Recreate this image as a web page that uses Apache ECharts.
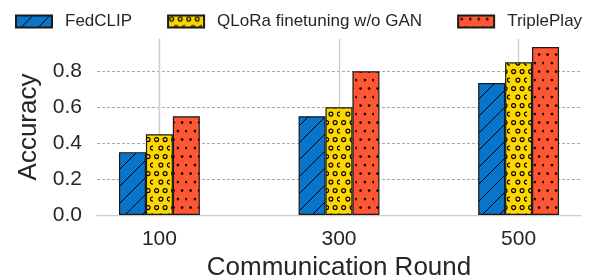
<!DOCTYPE html>
<html>
<head>
<meta charset="utf-8">
<script src="https://cdn.jsdelivr.net/npm/echarts@6/dist/echarts.min.js"></script>
<style>
  html, body { margin: 0; padding: 0; background: #fff; }
  #chart { width: 602px; height: 280px; }
</style>
</head>
<body>
<div id="chart"></div>
<script>
const rounds = ['100', '300', '500']
const seriesNames = ['FedCLIP', 'QLoRa finetuning w/o GAN', 'TriplePlay']
const fedclip = [0.35, 0.55, 0.735]
const qlora = [0.45, 0.60, 0.85]
const tripleplay = [0.55, 0.80, 0.935]
const yTicks = [0, 0.2, 0.4, 0.6, 0.8]

const font = '"Liberation Sans", Arial, sans-serif'
const textColor = '#262626'

// hatch tiles, like matplotlib's '/', 'o' and '.'
const makePattern = (bg, draw) => {
  const c = document.createElement('canvas')
  c.width = 17
  c.height = 17
  const ctx = c.getContext('2d')
  ctx.fillStyle = bg
  ctx.fillRect(0, 0, 17, 17)
  ctx.strokeStyle = '#000'
  ctx.fillStyle = '#000'
  ctx.lineWidth = 1
  draw(ctx)
  return { image: c, repeat: 'repeat' }
}

const hatchSlash = makePattern('#0a74c9', (ctx) => {
  ctx.beginPath()
  ctx.moveTo(-1, 18); ctx.lineTo(18, -1)
  ctx.moveTo(-1, 1); ctx.lineTo(1, -1)
  ctx.moveTo(16, 18); ctx.lineTo(18, 16)
  ctx.stroke()
})

const spots = [[2.1, 2.1], [10.6, 2.1], [6.4, 10.6], [14.9, 10.6]]

const hatchRing = makePattern('#ffd700', (ctx) => {
  ctx.lineWidth = 1.1
  spots.forEach(([x, y]) => {
    ctx.beginPath()
    ctx.arc(x + 1.5, y + 1.5, 2.0, 0, Math.PI * 2)
    ctx.stroke()
  })
})

const hatchDot = makePattern('#ff5733', (ctx) => {
  spots.forEach(([x, y]) => {
    ctx.beginPath()
    ctx.arc(x + 1.5, y + 1.5, 1.3, 0, Math.PI * 2)
    ctx.fill()
  })
})

const barOffset = 0.15
const buildSeries = (name, values, idx, fill) => ({
  name,
  type: 'bar',
  barWidth: 27,
  barGap: '-100%',
  data: values.map((v, i) => [i + (idx - 1) * barOffset, v]),
  itemStyle: { color: fill, borderColor: '#1a1a1a', borderWidth: 1.2 },
  emphasis: { disabled: true }
})

const chart = echarts.init(document.getElementById('chart'), null, { renderer: 'canvas' })

chart.setOption({
  animation: false,
  backgroundColor: '#fff',
  textStyle: { fontFamily: font },
  legend: {
    top: 8,
    left: 10,
    itemWidth: 36,
    itemHeight: 12,
    itemGap: 35,
    icon: 'rect',
    textStyle: { fontFamily: font, fontSize: 17, color: textColor, padding: [0, 0, 0, 8] },
    data: seriesNames
  },
  grid: { left: 97, right: 21, top: 39, bottom: 65, outerBoundsMode: 'none' },
  xAxis: {
    type: 'value',
    min: -0.3475,
    max: 2.3475,
    name: 'Communication Round',
    nameLocation: 'middle',
    nameGap: 38,
    nameTextStyle: { fontFamily: font, fontSize: 26, color: textColor },
    axisLine: { show: true, lineStyle: { color: '#cccccc', width: 1.25 } },
    axisTick: { show: false, customValues: [0, 1, 2] },
    axisLabel: {
      customValues: [0, 1, 2],
      formatter: (v) => rounds[Math.round(v)],
      fontFamily: font, fontSize: 21, color: textColor, margin: 14
    },
    splitLine: { show: true, lineStyle: { color: '#cccccc', width: 1.3 } }
  },
  yAxis: {
    type: 'value',
    min: 0,
    max: 0.98,
    name: 'Accuracy',
    nameLocation: 'middle',
    nameGap: 53,
    nameTextStyle: { fontFamily: font, fontSize: 26, color: textColor },
    axisLine: { show: true, lineStyle: { color: '#cccccc', width: 1.25 } },
    axisTick: { show: false, customValues: yTicks.slice(1) },
    axisLabel: {
      customValues: yTicks,
      formatter: (v) => v.toFixed(1),
      fontFamily: font, fontSize: 21, color: textColor, margin: 15
    },
    splitLine: { show: true, lineStyle: { color: '#a8a8a8', width: 1, type: [3, 2] } }
  },
  series: [
    buildSeries(seriesNames[0], fedclip, 0, hatchSlash),
    buildSeries(seriesNames[1], qlora, 1, hatchRing),
    buildSeries(seriesNames[2], tripleplay, 2, hatchDot)
  ]
})
</script>
</body>
</html>
